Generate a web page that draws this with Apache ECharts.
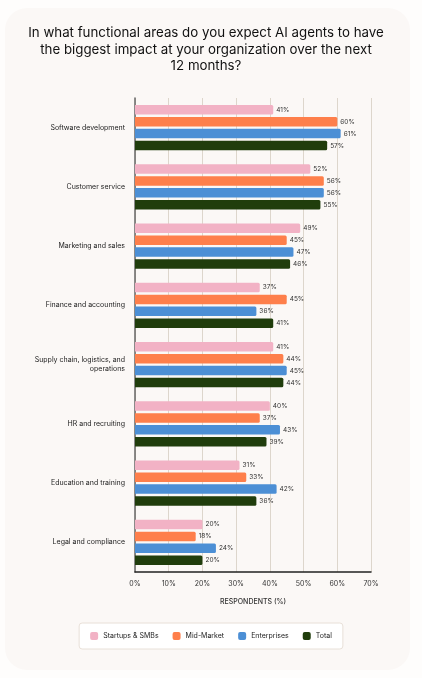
<!DOCTYPE html>
<html>
<head>
<meta charset="utf-8">
<script src="https://cdn.jsdelivr.net/npm/echarts@6/dist/echarts.min.js"></script>
<style>
html,body{margin:0;padding:0;width:422px;height:678px;background:#fefdfc;overflow:hidden;}
#card{position:absolute;left:5px;top:8px;width:405px;height:662px;background:#fbf8f6;border-radius:22px;}
#chart{position:absolute;left:0;top:0;width:422px;height:678px;}
</style>
</head>
<body>
<div id="card"></div>
<div id="chart"></div>
<script>
const categories = ["Software development","Customer service","Marketing and sales","Finance and accounting","Supply chain, logistics, and\noperations","HR and recruiting","Education and training","Legal and compliance"];
const seriesNames = ["Startups & SMBs","Mid-Market","Enterprises","Total"];
const startups = [41,52,49,37,41,40,31,20];
const midMarket = [60,56,45,45,44,37,33,18];
const enterprises = [61,56,47,36,45,43,42,24];
const total = [57,55,46,41,44,39,36,20];
const xTicks = [0,10,20,30,40,50,60,70];
const colors = ["#f2b2c5","#fe7f4b","#4c8fd5","#203d0c"];

const font = "Inter, 'Noto Sans', sans-serif";
const chart = echarts.init(document.getElementById('chart'), null, {renderer:'canvas'});
const data = [startups, midMarket, enterprises, total];
chart.setOption({
  textStyle:{fontFamily:font},
  title:{
    text:"In what functional areas do you expect AI agents to have\nthe biggest impact at your organization over the next\n12 months?",
    left:201, top:20, textAlign:'center',
    textStyle:{fontSize:13.3, fontWeight:'normal', color:'#111', lineHeight:16.5, fontFamily:font}
  },
  legend:{
    data:seriesNames, bottom:29, left:'center',
    backgroundColor:'#ffffff', borderColor:'#e8e0d8', borderWidth:1, borderRadius:3,
    padding:[9,11,9,11], itemWidth:8, itemHeight:8, itemGap:14,
    icon:'roundRect',
    textStyle:{fontSize:7, color:'#222', fontFamily:font}
  },
  grid:{left:135, right:51, top:98, bottom:106, containLabel:false},
  xAxis:{
    type:'value', min:0, max:70, interval:10,
    name:'RESPONDENTS (%)', nameLocation:'middle', nameGap:26,
    nameTextStyle:{fontSize:7, color:'#333', fontWeight:500, fontFamily:font},
    axisLine:{show:true, lineStyle:{color:'#222', width:1.5}},
    axisTick:{show:false},
    axisLabel:{fontSize:7, color:'#333', margin:8, formatter: v => v + '%'},
    splitLine:{show:true, lineStyle:{color:'#ddd6cc', width:1}}
  },
  yAxis:{
    type:'category', data:categories, inverse:true,
    axisLine:{show:true, lineStyle:{color:'#666', width:1.5}},
    axisTick:{show:false},
    axisLabel:{fontSize:7, color:'#222', margin:10, align:'right', lineHeight:9},
    splitLine:{show:false}
  },
  series: seriesNames.map((n,i)=>({
    name:n, type:'bar', data:data[i],
    barWidth:9.5, barGap:'26%', barCategoryGap:'20%',
    itemStyle:{color:colors[i], borderRadius:[0,1.5,1.5,0]},
    label:{show:true, position:'right', distance:3, fontSize:6.5, color:'#333', formatter:'{c}%'},
    animation:false
  })),
  animation:false
});
</script>
</body>
</html>
